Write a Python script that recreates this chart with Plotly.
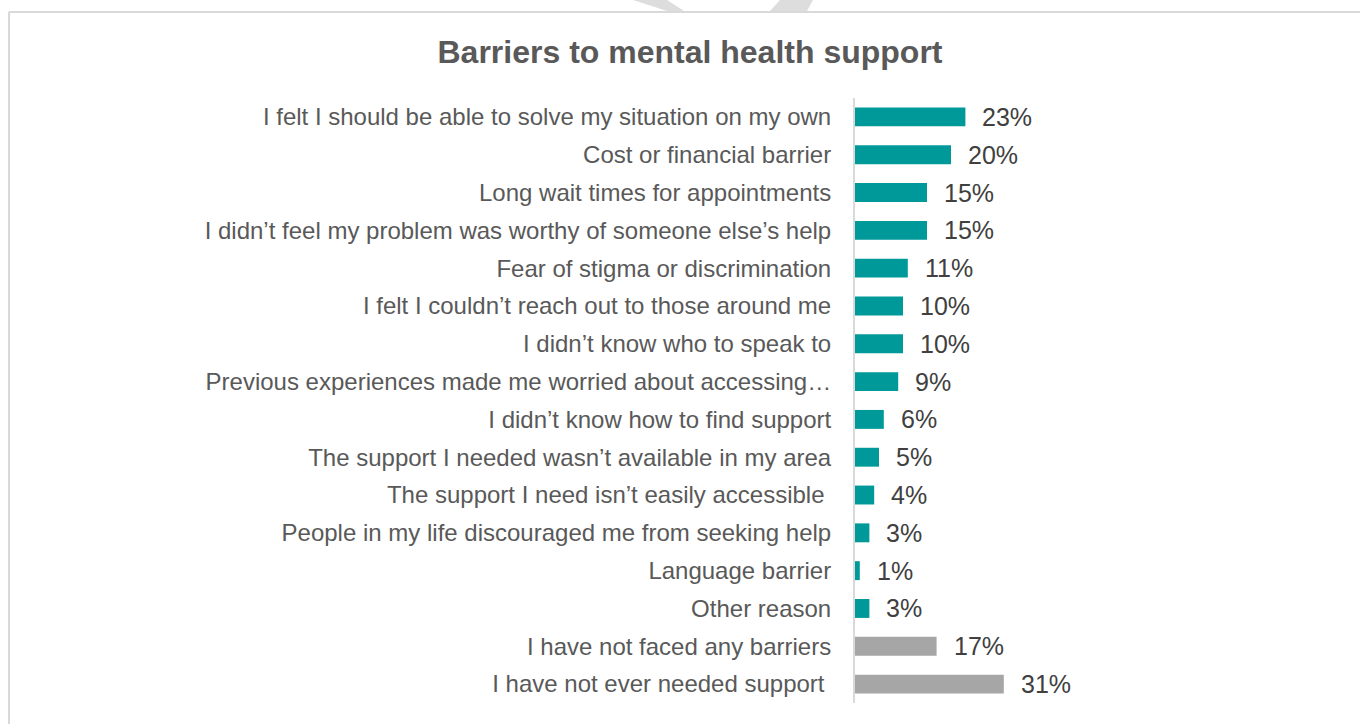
import plotly.graph_objects as go

# Survey responses, top to bottom
barriers = [
    "I felt I should be able to solve my situation on my own",
    "Cost or financial barrier",
    "Long wait times for appointments",
    "I didn’t feel my problem was worthy of someone else’s help",
    "Fear of stigma or discrimination",
    "I felt I couldn’t reach out to those around me",
    "I didn’t know who to speak to",
    "Previous experiences made me worried about accessing…",
    "I didn’t know how to find support",
    "The support I needed wasn’t available in my area",
    "The support I need isn’t easily accessible\u00a0",
    "People in my life discouraged me from seeking help",
    "Language barrier",
    "Other reason",
    "I have not faced any barriers",
    "I have not ever needed support\u00a0",
]
shares = [23, 20, 15, 15, 11, 10, 10, 9, 6, 5, 4, 3, 1, 3, 17, 31]
groups = ["barrier"] * 14 + ["none"] * 2

TEAL = "#009999"
GREY = "#a6a6a6"
colors = [TEAL if g == "barrier" else GREY for g in groups]

FONT = "Liberation Sans, Arial, sans-serif"
W, H = 1360, 724
left, right = 855, 1047
top, bottom = 98, 703

fig = go.Figure(
    go.Bar(
        x=shares,
        y=barriers,
        orientation="h",
        marker=dict(color=colors, line=dict(width=0)),
        width=0.5,
        hoverinfo="skip",
    )
)

for b, v in zip(barriers, shares):
    fig.add_annotation(
        x=v, y=b, text=f"{v}%", showarrow=False,
        xanchor="left", xshift=15, yshift=0,
        font=dict(family=FONT, size=25, color="#404040"),
    )

fig.update_layout(
    width=W, height=H,
    margin=dict(l=left, r=W - right, t=top, b=H - bottom, autoexpand=False),
    paper_bgcolor="white", plot_bgcolor="white",
    showlegend=False,
    font=dict(family=FONT),
    xaxis=dict(range=[0, 40], visible=False, fixedrange=True),
    yaxis=dict(
        categoryorder="array", categoryarray=barriers,
        range=[len(barriers) - 0.5, -0.5],
        showline=True, linecolor="#d9d9d9", linewidth=2,
        showgrid=False, zeroline=False, ticks="",
        ticklabelstandoff=17,
        tickfont=dict(family=FONT, size=24, color="#595959"),
        automargin=False,
    ),
    title=dict(
        text="<b>Barriers to mental health support</b>",
        x=690 / W, xanchor="center", y=1 - 52 / H, yanchor="middle",
        font=dict(family=FONT, size=32, color="#595959"),
    ),
)


def px(xp, yp):
    return (xp - left) / (right - left), (bottom - yp) / (bottom - top)


def poly(points):
    pts = [px(a, b) for a, b in points]
    return "M " + " L ".join(f"{a},{b}" for a, b in pts) + " Z"


# Frame around the chart area and the faint page decoration above it
x0, y0 = px(9, 12)
x1, y1 = px(W, H)
fig.add_shape(type="line", xref="paper", yref="paper", x0=x0, x1=x1, y0=y0, y1=y0,
              line=dict(color="#d9d9d9", width=2), layer="below")
fig.add_shape(type="line", xref="paper", yref="paper", x0=x0, x1=x0, y0=y0, y1=y1,
              line=dict(color="#d9d9d9", width=2), layer="below")

fig.add_shape(type="path", xref="paper", yref="paper",
              path=poly([(633, 0), (667, 0), (684, 11), (667, 11)]),
              fillcolor="#dddddd", line=dict(width=0), layer="below")
fig.add_shape(type="path", xref="paper", yref="paper",
              path=poly([(780, 0), (813, 0), (807, 11), (770, 11)]),
              fillcolor="#dddddd", line=dict(width=0), layer="below")

fig.write_html("out.html")
